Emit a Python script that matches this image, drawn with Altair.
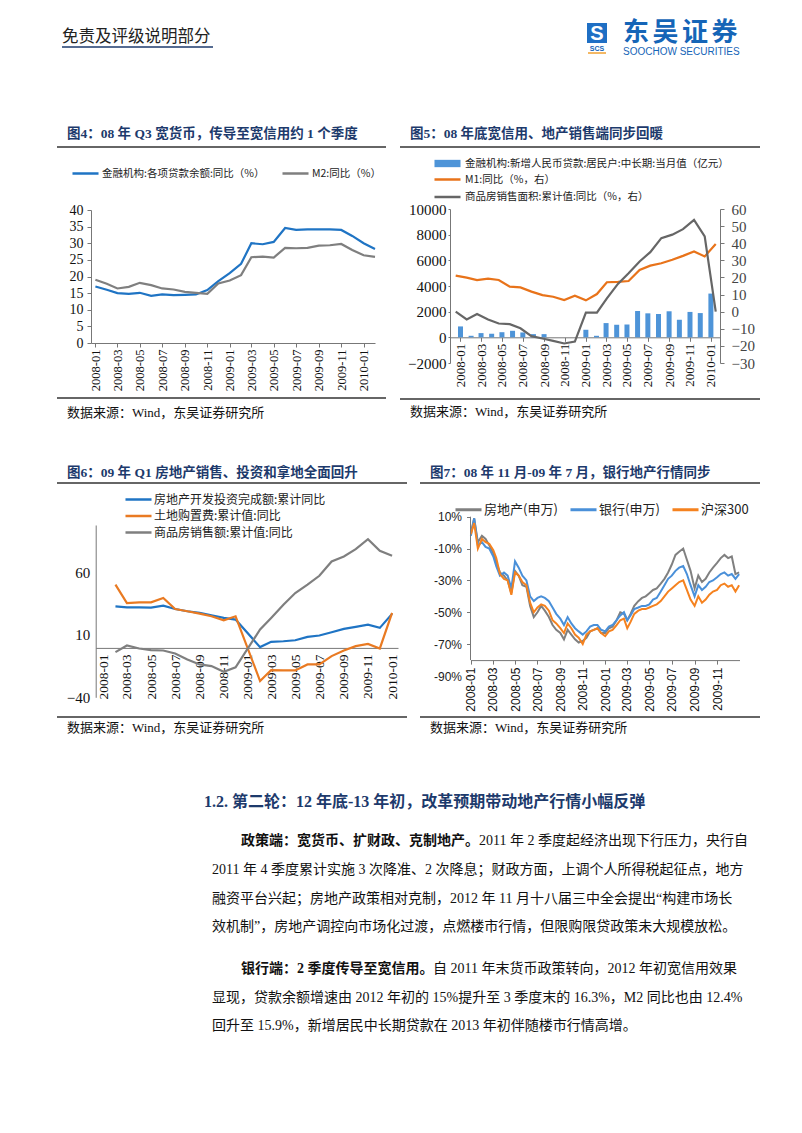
import altair as alt
import pandas as pd

# ------------------------------------------------------------------ data
# Fig 4 (monthly)
months4 = ["2008-01", "2008-02", "2008-03", "2008-04", "2008-05", "2008-06", "2008-07",
           "2008-08", "2008-09", "2008-10", "2008-11", "2008-12", "2009-01", "2009-02",
           "2009-03", "2009-04", "2009-05", "2009-06", "2009-07", "2009-08", "2009-09",
           "2009-10", "2009-11", "2009-12", "2010-01", "2010-02"]
loan_yoy = [17.0, 16.0, 15.0, 14.8, 15.1, 14.2, 14.6, 14.4, 14.5, 14.6, 15.9, 18.6, 21.0,
            23.8, 30.0, 29.7, 30.4, 34.6, 34.0, 34.2, 34.2, 34.2, 34.0, 32.2, 30.0, 28.3]
m2_yoy = [19.0, 17.8, 16.4, 16.9, 18.1, 17.4, 16.4, 16.1, 15.4, 15.1, 14.8, 17.9, 18.8,
          20.4, 25.8, 26.0, 25.7, 28.6, 28.5, 28.6, 29.3, 29.4, 29.8, 28.0, 26.4, 25.9]
names4 = ["金融机构:各项贷款余额:同比（%）", "M2:同比（%）"]

# Fig 5 (monthly)
months5 = months4[:25]
hh_loans = [850, 120, 330, 280, 400, 510, 380, 250, 250, 0, 0, 0, 590, 120, 1110, 980,
            1000, 2050, 1870, 1820, 2030, 1370, 1980, 1890, 3410]
m1_yoy = [21.1, 19.9, 18.5, 19.3, 18.5, 14.6, 14.2, 11.7, 9.7, 8.7, 6.8, 9.3, 6.6, 10.3,
          17.2, 17.4, 17.9, 24.4, 26.9, 28.3, 30.3, 32.6, 35.2, 32.3, 39.5]
area_yoy = [0.0, -4.5, -1.4, -4.6, -6.9, -7.3, -9.7, -14.3, -15.7, -17.1, -18.6, -17.5,
            -0.5, -0.6, 7.8, 16.2, 22.4, 29.3, 34.8, 43.0, 45.0, 48.2, 53.6, 44.0, 0.0]
names5_bar = ["金融机构:新增人民币贷款:居民户:中长期:当月值（亿元）"]
names5_line = ["M1:同比（%，右）", "商品房销售面积:累计值:同比（%，右）"]

# Fig 6 (monthly, Jan-Feb combined)
months6 = ["2008-02", "2008-03", "2008-04", "2008-05", "2008-06", "2008-07", "2008-08",
           "2008-09", "2008-10", "2008-11", "2008-12", "2009-02", "2009-03", "2009-04",
           "2009-05", "2009-06", "2009-07", "2009-08", "2009-09", "2009-10", "2009-11",
           "2009-12", "2010-01"]
invest_yoy = [32.9, 32.1, 32.1, 31.8, 33.4, 30.7, 28.9, 27.6, 25.7, 23.6, 22.2, 0.2, 4.4,
              4.9, 5.7, 8.4, 9.5, 12.1, 14.8, 16.4, 18.2, 15.6, 26.8]
land_yoy = [50.2, 35.5, 36.1, 36.1, 39.5, 30.7, 28.9, 27.0, 24.9, 21.7, 24.9, -27.0, -18.2,
            -18.5, -18.5, -13.7, -13.7, -7.0, -2.5, 1.0, 2.8, -0.9, 27.6]
sales_yoy = [-3.8, 1.5, -0.9, -2.2, -2.5, -4.9, -9.7, -13.7, -15.0, -19.5, -16.0, 14.3,
             23.6, 34.2, 43.5, 50.2, 57.3, 68.8, 72.8, 78.6, 86.6, 77.3, 73.3]
names6 = ["房地产开发投资完成额:累计同比", "土地购置费:累计值:同比", "商品房销售额:累计值:同比"]

# Fig 7 (cumulative change since 2008-01-02, %)
dates7 = ["2008-01-02", "2008-01-11", "2008-01-21", "2008-02-01", "2008-02-11", "2008-02-21",
          "2008-03-03", "2008-03-11", "2008-03-21", "2008-04-01", "2008-04-11", "2008-04-21",
          "2008-05-01", "2008-05-11", "2008-05-21", "2008-06-01", "2008-06-11", "2008-06-21",
          "2008-07-01", "2008-07-11", "2008-07-21", "2008-08-01", "2008-08-11", "2008-08-21",
          "2008-09-01", "2008-09-11", "2008-09-21", "2008-10-01", "2008-10-11", "2008-10-21",
          "2008-11-01", "2008-11-11", "2008-11-21", "2008-12-01", "2008-12-11", "2008-12-21",
          "2009-01-01", "2009-01-11", "2009-01-21", "2009-02-01", "2009-02-11", "2009-02-21",
          "2009-03-02", "2009-03-11", "2009-03-21", "2009-04-01", "2009-04-11", "2009-04-21",
          "2009-05-01", "2009-05-11", "2009-05-21", "2009-06-01", "2009-06-11", "2009-06-21",
          "2009-07-01", "2009-07-11", "2009-07-21", "2009-08-01", "2009-08-11", "2009-08-21",
          "2009-09-01", "2009-09-11", "2009-09-21", "2009-10-01", "2009-10-11", "2009-10-21",
          "2009-11-01", "2009-11-11", "2009-11-21", "2009-12-01", "2009-12-11", "2009-12-21",
          "2009-12-31"]
realestate = [0, 9, -6, -2, -4, -8, -13, -19, -25, -27, -30, -38, -24, -27, -33, -34, -46, -53,
              -50, -46, -49, -53, -58, -61, -63, -67, -61, -64, -67, -69, -68, -66, -62, -61,
              -60, -63,
              -63, -60, -59, -55, -50, -51, -55, -51, -46, -43, -41, -40, -38, -36, -35, -32,
              -29, -25, -20, -14, -12, -10, -17, -24, -35, -27, -31, -29, -25, -22, -19, -16,
              -14, -16, -15, -26, -25]
banks = [-2, 9, -8, -6, -9, -10, -15, -21, -27, -25, -27, -35, -18, -22, -27, -30, -40, -43,
         -41, -40, -41, -43, -47, -51, -54, -58, -53, -57, -60, -62, -64, -62, -59, -58, -58,
         -61,
         -62, -59, -58, -55, -52, -50, -55, -52, -48, -47, -46, -46, -45, -42, -41, -37, -33,
         -29, -27, -24, -22, -21, -26, -33, -40, -33, -36, -34, -31, -30, -28, -26, -25, -27,
         -26, -29, -26]
hs300 = [-1, 6, -10, -4, -6, -7, -11, -16, -26, -29, -30, -39, -25, -27, -31, -33, -44, -50,
         -47, -45, -46, -49, -55, -57, -60, -63, -57, -60, -64, -66, -70, -64, -62, -61, -60,
         -63,
         -65, -62, -61, -58, -55, -54, -60, -56, -51, -49, -48, -48, -47, -46, -45, -43, -40,
         -37, -35, -33, -31, -30, -36, -42, -46, -40, -44, -42, -39, -37, -36, -33, -32, -34,
         -33, -37, -33]
names7 = ["房地产(申万)", "银行(申万)", "沪深300"]

ticks2m = ["2008-01", "2008-03", "2008-05", "2008-07", "2008-09", "2008-11", "2009-01",
           "2009-03", "2009-05", "2009-07", "2009-09", "2009-11", "2010-01"]

# ------------------------------------------------------------------ text
title4 = "图4：08 年 Q3 宽货币，传导至宽信用约 1 个季度"
title5 = "图5：08 年底宽信用、地产销售端同步回暖"
title6 = "图6：09 年 Q1 房地产销售、投资和拿地全面回升"
title7 = "图7：08 年 11 月-09 年 7 月，银行地产行情同步"
source = "数据来源：Wind，东吴证券研究所"
header = "免责及评级说明部分"
logo_chars = ["东", "吴", "证", "券"]
logo_en_text = "SOOCHOW SECURITIES"
heading = "1.2.  第二轮：12 年底-13 年初，改革预期带动地产行情小幅反弹"
p1_bold = "政策端：宽货币、扩财政、克制地产。"
p1_lines = ["2011 年 2 季度起经济出现下行压力，央行自",
            "2011 年 4 季度累计实施 3 次降准、2 次降息；财政方面，上调个人所得税起征点，地方",
            "融资平台兴起；房地产政策相对克制，2012 年 11 月十八届三中全会提出“构建市场长",
            "效机制”，房地产调控向市场化过渡，点燃楼市行情，但限购限贷政策未大规模放松。"]
p2_bold = "银行端：2 季度传导至宽信用。"
p2_lines = ["自 2011 年末货币政策转向，2012 年初宽信用效果",
            "显现，贷款余额增速由 2012 年初的 15%提升至 3 季度末的 16.3%，M2 同比也由 12.4%",
            "回升至 15.9%，新增居民中长期贷款在 2013 年初伴随楼市行情高增。"]

# ------------------------------------------------------------------ layout helpers
W, H = 786, 1117
O = 8  # page margin: page pixel -> chart pixel = page - O
SERIF = "'Liberation Serif', 'Noto Sans CJK SC'"
CJK = "'Noto Sans CJK SC'"
NAVY = "#1d3a6c"
LINE_SYM = "M-2.2,0H2.2"
BAR_SYM = "M-2.2,-0.62H2.2V0.62H-2.2Z"
SYM_SIZE = 140  # 26 px long legend swatches


def dt(y, m, d):
    return alt.DateTime(year=y, month=m, date=d)


def mtick(s):
    y, m = s.split("-")
    return dt(int(y), int(m), 1)


def long_df(dates, names, cols):
    rows = []
    for n, col in zip(names, cols):
        for d, v in zip(dates, col):
            rows.append({"date": pd.Timestamp(d), "value": v, "series": n})
    return pd.DataFrame(rows)


def text_layer(items, size, weight="normal", color="#111", font=SERIF, align="left"):
    df = pd.DataFrame([{"x": x - O, "y": y - O, "t": t} for t, x, y in items])
    return alt.Chart(df).mark_text(align=align, baseline="middle", fontSize=size,
                                   fontWeight=weight, color=color, font=font).encode(
        x=alt.X("x:Q", scale=None, axis=None),
        y=alt.Y("y:Q", scale=None, axis=None),
        text="t:N")


def rules_layer(items, color="#222", width=1.5):
    df = pd.DataFrame([{"x": a - O, "x2": b - O, "y": y - O} for a, b, y in items])
    return alt.Chart(df).mark_rule(color=color, strokeWidth=width).encode(
        x=alt.X("x:Q", scale=None, axis=None),
        x2="x2:Q",
        y=alt.Y("y:Q", scale=None, axis=None))


def xaxis(values, axis_y_page, font="Liberation Serif", size=12, ticks=True, pad=2):
    return alt.Axis(orient="bottom", offset=(axis_y_page - O) - H, values=values,
                    format="%Y-%m", labelAngle=270, labelFont=font, labelFontSize=size,
                    labelColor="#111", domainColor="#777", tickColor="#777", ticks=ticks,
                    tickSize=4, labelPadding=pad, grid=False, title=None, labelOverlap=False,
                    labelBound=False, labelFlush=False)


def yaxis(values, axis_x_page, orient="left", font="Liberation Serif", size=14, fmt=None,
          label_color="#111", domain=True, pad=5, tick=4, expr=None):
    kw = dict(orient=orient, values=values, labelFont=font, labelFontSize=size,
              labelColor=label_color, domainColor="#777", tickColor="#777", tickSize=tick,
              ticks=tick > 0, labelPadding=pad, grid=False, title=None, domain=domain,
              labelOverlap=False, labelFlush=False, labelBound=False)
    if orient == "left":
        kw["offset"] = -(axis_x_page - O)
    else:
        kw["offset"] = (axis_x_page - O) - W
    if fmt:
        kw["format"] = fmt
    if expr:
        kw["labelExpr"] = expr
    return alt.Axis(**kw)


def legend(x_page, y_top_page, direction, size=10.5, sym=LINE_SYM, row_pad=4, col_pad=10,
           stroke=2.5, label_offset=10):
    # swatch is wider than its nominal symbol box; shift so it starts at x_page
    return alt.Legend(orient="none", legendX=x_page - O + 3, legendY=y_top_page - O,
                      direction=direction, title=None, symbolType=sym, symbolSize=SYM_SIZE,
                      symbolStrokeWidth=stroke, labelFont=CJK, labelFontSize=size,
                      labelColor="#222", labelOffset=label_offset, rowPadding=row_pad,
                      columnPadding=col_pad, padding=0, labelLimit=500,
                      columns=0 if direction == "horizontal" else 1)


# ------------------------------------------------------------------ Fig 4
df4 = long_df(months4, names4, [loan_yoy, m2_yoy])
fig4 = alt.Chart(df4).mark_line(strokeWidth=2.2).encode(
    x=alt.X("date:T",
            scale=alt.Scale(domain=[dt(2007, 12, 20), dt(2010, 2, 1)], range=[91 - O, 375 - O]),
            axis=xaxis([mtick(s) for s in ticks2m], 343, size=12.5)),
    y=alt.Y("value:Q",
            scale=alt.Scale(domain=[0, 40], range=[343 - O, 210 - O], nice=False, zero=False),
            axis=yaxis(list(range(0, 45, 5)), 91, size=14, pad=4)),
    color=alt.Color("series:N", sort=names4,
                    scale=alt.Scale(domain=names4, range=["#1f74c4", "#7f7f7f"]),
                    legend=legend(75, 166, "horizontal", size=10.5, col_pad=12, label_offset=9)),
)

# ------------------------------------------------------------------ Fig 5
x5 = alt.Scale(domain=[dt(2007, 12, 16), dt(2010, 1, 13)], range=[450 - O, 720 - O])
df5b = pd.DataFrame({"date": pd.to_datetime(months5), "value": hh_loans,
                     "series": names5_bar[0]})
fig5_bar = alt.Chart(df5b).mark_bar(size=5).encode(
    x=alt.X("date:T", scale=x5, axis=xaxis([mtick(s) for s in ticks2m], 337.3, size=13)),
    y=alt.Y("value:Q",
            scale=alt.Scale(domain=[-2000, 10000], range=[363 - O, 209 - O], nice=False),
            axis=yaxis(list(range(-2000, 10001, 2000)), 450, size=15, pad=2, tick=2, fmt="d")),
    color=alt.Color("series:N", scale=alt.Scale(domain=names5_bar, range=["#4e94d8"]),
                    legend=legend(437, 156, "vertical", size=10.5, sym=BAR_SYM)),
)
df5l = long_df(months5, names5_line, [m1_yoy, area_yoy])
fig5_line = alt.Chart(df5l).mark_line(strokeWidth=2.2).encode(
    x=alt.X("date:T", scale=x5, axis=None),
    y=alt.Y("value:Q",
            scale=alt.Scale(domain=[-30, 60], range=[363 - O, 209 - O], nice=False, zero=False),
            axis=yaxis(list(range(-30, 61, 10)), 720, orient="right", size=15, pad=7,
                       label_color="#444")),
    color=alt.Color("series:N", sort=names5_line,
                    scale=alt.Scale(domain=names5_line, range=["#e8731a", "#666666"]),
                    legend=legend(437, 172, "vertical", size=10.5, row_pad=4.5)),
)

# ------------------------------------------------------------------ Fig 6
df6 = long_df(months6, names6, [invest_yoy, land_yoy, sales_yoy])
fig6 = alt.Chart(df6).mark_line(strokeWidth=2.2).encode(
    x=alt.X("date:T",
            scale=alt.Scale(domain=[dt(2007, 12, 13), dt(2010, 1, 16)], range=[95.7 - O, 398 - O]),
            axis=xaxis([mtick(s) for s in ticks2m], 647.9, ticks=False, pad=6, size=13.5)),
    y=alt.Y("value:Q",
            scale=alt.Scale(domain=[-40, 98], range=[697.3 - O, 525 - O], nice=False, zero=False),
            axis=yaxis([-40, 10, 60], 95.7, size=15, pad=6, tick=0)),
    color=alt.Color("series:N", sort=names6,
                    scale=alt.Scale(domain=names6, range=["#1f74c4", "#e97a22", "#7f7f7f"]),
                    legend=legend(128, 492, "vertical", size=12, row_pad=2.5,
                                  label_offset=8)),
)

# ------------------------------------------------------------------ Fig 7
df7 = long_df(dates7, names7, [realestate, banks, hs300])
x7 = alt.Scale(domain=[dt(2008, 1, 1), dt(2010, 1, 1)], range=[470.5 - O, 739.5 - O])
y7 = alt.Scale(domain=[-90, 10], range=[676 - O, 516.7 - O], nice=False, zero=False)
fig7 = alt.Chart(df7).mark_line(strokeWidth=2).encode(
    x=alt.X("date:T", scale=x7,
            axis=xaxis([mtick(s) for s in ticks2m[:-1]], 660.1, font="Liberation Sans",
                       size=12, pad=3)),
    y=alt.Y("value:Q", scale=y7,
            axis=yaxis(list(range(-90, 11, 20)), 470.5, font="Liberation Sans", size=12,
                       domain=False, pad=5, expr="datum.value + '%'", label_color="#222")),
    color=alt.Color("series:N", sort=names7,
                    scale=alt.Scale(domain=names7, range=["#808080", "#4a90d9", "#f5821f"]),
                    legend=legend(458, 502, "horizontal", size=13, col_pad=6, stroke=3,
                                  label_offset=8)),
)
# y-axis line of Fig 7 stops at the -80% crossing (same scales as the lines)
axis7 = alt.Chart(pd.DataFrame({"d": [pd.Timestamp("2008-01-01")], "top": [10], "bot": [-80]})
                  ).mark_rule(color="#777", strokeWidth=1).encode(
    x=alt.X("d:T", scale=x7, axis=None),
    y=alt.Y("top:Q", scale=y7, axis=None),
    y2="bot:Q")

# ------------------------------------------------------------------ page texts
titles = text_layer([(title4, 67, 134), (title5, 410, 134), (title6, 67, 473),
                     (title7, 430, 473)], 13.5, weight="bold", color=NAVY)
sources = text_layer([(source, 67, 413), (source, 410, 412), (source, 67, 728),
                      (source, 430, 728)], 13)
frames = rules_layer([(57, 386, 147), (400, 760, 147), (57, 386, 398), (400, 760, 399),
                      (57, 407, 483), (420, 760, 483), (57, 407, 717), (420, 760, 717)],
                     color="#333", width=1.6)
head_txt = text_layer([(header, 62, 37)], 16.5, font=CJK, color="#222")
head_rule = rules_layer([(62, 213, 47)], color=NAVY, width=1.5)
logo_cn = text_layer([(c, 623 + 29.5 * i, 33) for i, c in enumerate(logo_chars)], 26,
                     weight="bold", color="#1565b7", font=CJK)
logo_en = text_layer([(logo_en_text, 623, 52)], 10, color="#1565b7", font="'Liberation Sans'")
logo_scs = text_layer([("SCS", 597, 48.5)], 7, weight="bold", color="#1565b7",
                      font="'Liberation Sans'", align="center")
logo_icon = alt.Chart(pd.DataFrame({"x": [597 - O], "y": [33 - O]})).mark_square(
    size=400, color="#1f6fc4", opacity=1).encode(
    x=alt.X("x:Q", scale=None, axis=None), y=alt.Y("y:Q", scale=None, axis=None))
logo_s = text_layer([("S", 597, 33.5)], 20, weight="bold", color="white",
                    font="'Liberation Sans'", align="center")
logo_bar = rules_layer([(588, 606, 53)], color="#f0a030", width=1.5)

heading_t = text_layer([(heading, 204, 802)], 16, weight="bold", color=NAVY)
body_bold = text_layer([(p1_bold, 241, 841), (p2_bold, 241, 969)], 14, weight="bold")
body = text_layer([(p1_lines[0], 479, 841), (p1_lines[1], 212, 870), (p1_lines[2], 212, 899),
                   (p1_lines[3], 212, 927), (p2_lines[0], 433, 969), (p2_lines[1], 212, 998),
                   (p2_lines[2], 212, 1026)], 14)

chart = alt.layer(
    fig4, fig5_bar, fig5_line, fig6, fig7, axis7,
    titles, sources, frames, head_txt, head_rule, logo_icon, logo_s, logo_scs, logo_bar,
    logo_cn, logo_en, heading_t, body_bold, body,
).resolve_scale(
    x="independent", y="independent", color="independent"
).properties(
    width=W, height=H, padding=0, autosize=alt.AutoSizeParams(type="none"),
    background="white"
).configure_view(stroke=None).configure_axis(grid=False)

chart.save("out.html", embed_options={"renderer": "svg", "actions": False})
